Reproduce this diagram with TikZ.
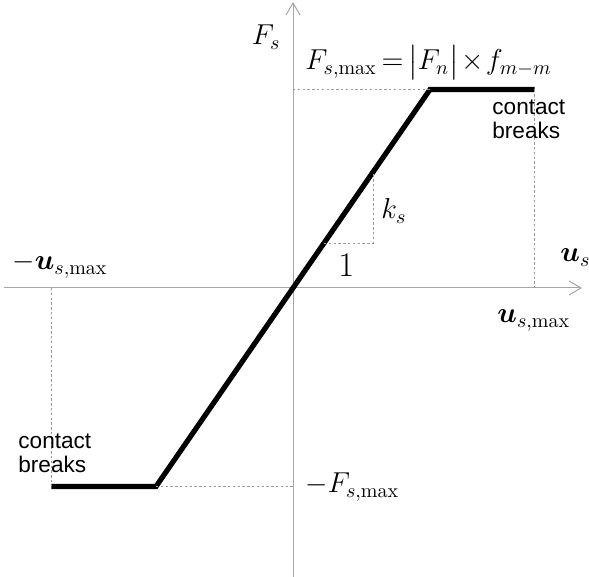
\documentclass[tikz,border=0pt]{standalone}
\usepackage{amsmath,amssymb,bm}
\usepackage{fontspec}
\newfontfamily\labelfont{Liberation Sans}
\usepackage{tikz}
\usetikzlibrary{arrows.meta,
positioning,
calc}

\begin{document}
\begin{tikzpicture}[
    x=0.5pt, y=0.5pt,
    font=\Large,
    axis/.style={
        draw=gray!70,
        line width=0.5pt,
        -{Straight Barb[length=6pt,width=7pt]}
    },
    guide/.style={
        draw=gray!80,
        line width=0.4pt,
        dash pattern=on 1.2pt off 1.2pt
    },
    law/.style={
        line width=2.6pt,
        line join=miter
    },
    mathLabel/.style={
        inner sep=0pt,
        anchor=base west
    },
    noteLabel/.style={
        font=\labelfont\fontsize{11.3}{12.2}\selectfont,
        align=left,
        inner sep=0pt,
        anchor=north west
    }
]

\useasboundingbox (-293,-289) rectangle (296,288);

%------------------------------------------------------------------------------
% Axes
%------------------------------------------------------------------------------

\coordinate (origin) at (0,0);
\coordinate (xStart) at (-289,0);
\coordinate (xEnd) at (289,0);
\coordinate (yStart) at (0,-289);
\coordinate (yEnd) at (0,286);

\draw[axis] (xStart) -- (xEnd);
\draw[axis] (yStart) -- (yEnd);

%------------------------------------------------------------------------------
% Force--displacement law
%------------------------------------------------------------------------------

\coordinate (lowEnd) at (-241.5,-198.5);
\coordinate (lowCorner) at (-137,-198.5);
\coordinate (highCorner) at (137,198.5);
\coordinate (highEnd) at (241.5,198.5);

\draw[law] (lowEnd) -- (lowCorner) -- (highCorner) -- (highEnd);

%------------------------------------------------------------------------------
% Guide lines
%------------------------------------------------------------------------------

\draw[guide] (0,198.5) -- (highCorner);
\draw[guide] (highEnd) -- (241.5,0);
\draw[guide] (-241.5,0) -- (lowEnd);
\draw[guide] (lowCorner) -- (0,-198.5);

% slope triangle
\coordinate (slopeFoot) at (31,45);
\coordinate (slopeCorner) at (80,45);
\coordinate (slopeTop) at (80,116);

\draw[guide] (slopeFoot) -- (slopeCorner) -- (slopeTop);

%------------------------------------------------------------------------------
% Labels
%------------------------------------------------------------------------------

\node[mathLabel, anchor=base east] (forceLabel) at (-12,243) {$F_s$};

\node[mathLabel] (limitLabel) at (12,218)
{$\thickmuskip=3mu\medmuskip=1.5mu
 F_{s,\max}=\big|F_n\big|\times f_{m-m}$};

\node[mathLabel] (negLimitLabel) at (12,-205) {$-F_{s,\max}$};

\node[mathLabel] (dispLabel) at (267,26) {$\bm{u}_s$};

\node[mathLabel] (maxDispLabel) at (204,-35) {$\bm{u}_{s,\max}$};

\node[mathLabel] (negMaxDispLabel) at (-281,18) {$-\bm{u}_{s,\max}$};

\node[mathLabel, font=\LARGE] (unitLabel) at (45,11) {$1$};

\node[mathLabel] (stiffLabel) at (88,69) {$k_s$};

\node[noteLabel] (breakRight) at (199,189) {contact\\breaks};

\node[noteLabel] (breakLeft) at (-275,-145) {contact\\breaks};

\end{tikzpicture}
\end{document}
